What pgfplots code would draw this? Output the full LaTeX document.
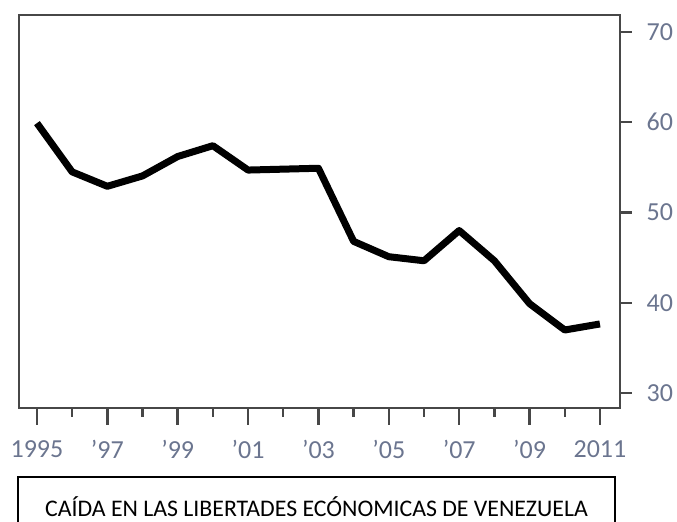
\documentclass[border=0pt]{standalone}
\usepackage{fontspec}
\setmainfont{Carlito}
\usepackage{pgfplots}
\pgfplotsset{compat=1.18}
\definecolor{lbl}{rgb}{0.42,0.46,0.56}
\definecolor{frame}{rgb}{0.28,0.28,0.28}
\begin{document}
\begin{tikzpicture}
\useasboundingbox (0pt,0pt) rectangle (338.5pt,-261pt);
\begin{axis}[
  at={(9.5pt,-204pt)}, anchor=south west,
  width=300.5pt, height=196.5pt, scale only axis,
  xmin=1994.49, xmax=2011.57, ymin=28.34, ymax=71.88,
  axis line style={draw=frame, line width=1.2pt},
  tick align=outside,
  xtick pos=bottom, ytick pos=right, yticklabel pos=right,
  xtick={1995,1997,...,2011},
  minor xtick={1996,1998,...,2010},
  xticklabels={1995,'97,'99,'01,'03,'05,'07,'09,2011},
  ytick={30,40,...,70},
  xtick style={draw=frame, line width=1.2pt, /pgfplots/major tick length=8.5pt, /pgfplots/minor tick length=4.5pt},
  ytick style={draw=frame, line width=1.2pt, /pgfplots/major tick length=6pt},
  tick label style={font=\fontsize{13pt}{13pt}\selectfont, text=lbl},
  /pgf/number format/assume math mode=true,
  yticklabel style={anchor=west, xshift=5.5pt},
  xticklabel style={anchor=north, yshift=-8.5pt},
  clip=false,
]
\addplot[black, line width=3.5pt, line join=round, line cap=butt] coordinates {
(1995,59.9) (1996,54.5) (1997,52.9) (1998,54.05) (1999,56.2) (2000,57.4)
(2001,54.7) (2002,54.8) (2003,54.9) (2004,46.8) (2005,45.1) (2006,44.65)
(2007,48.0) (2008,44.65) (2009,39.9) (2010,36.98) (2011,37.65)
};
\end{axis}
\draw[black, line width=1.3pt] (9pt,-262pt) -- (9pt,-238.5pt) -- (307.5pt,-238.5pt) -- (307.5pt,-262pt);
\node[font=\fontsize{11.9pt}{13pt}\selectfont] at (158.25pt,-253.5pt) {CAÍDA EN LAS LIBERTADES ECÓNOMICAS DE VENEZUELA};
\end{tikzpicture}
\end{document}
